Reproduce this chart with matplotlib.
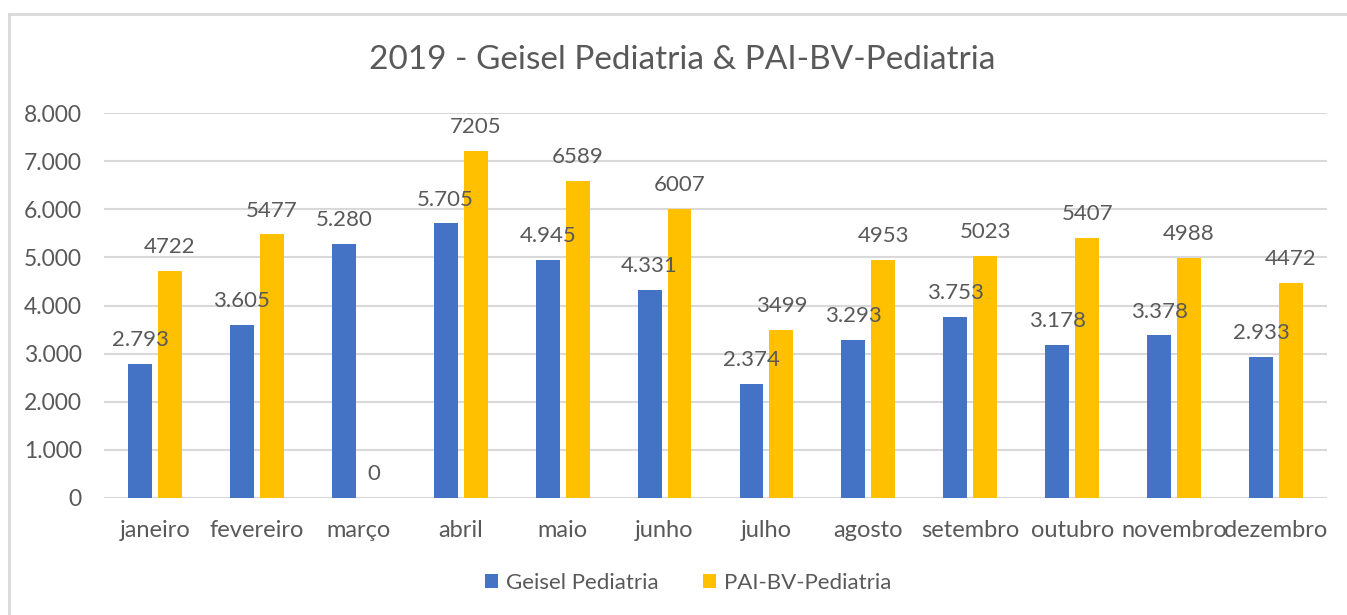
import matplotlib
matplotlib.use("Agg")
import matplotlib.pyplot as plt
from matplotlib.lines import Line2D
import numpy as np

plt.rcParams['font.family'] = ['Lato', 'DejaVu Sans']

months = ["janeiro", "fevereiro", "março", "abril", "maio", "junho", "julho",
          "agosto", "setembro", "outubro", "novembro", "dezembro"]
geisel = [2793, 3605, 5280, 5705, 4945, 4331, 2374, 3293, 3753, 3178, 3378, 2933]
pai = [4722, 5477, 0, 7205, 6589, 6007, 3499, 4953, 5023, 5407, 4988, 4472]
yticks = [0, 1000, 2000, 3000, 4000, 5000, 6000, 7000, 8000]
ytick_labels = ["0", "1.000", "2.000", "3.000", "4.000", "5.000", "6.000", "7.000", "8.000"]

W, H = 1347, 615
fig = plt.figure(figsize=(W / 100, H / 100), dpi=100)
fig.patch.set_facecolor("white")

# border (left/top visible)
fig.add_artist(Line2D([9 / W, 9 / W], [0, 1 - 14 / H], transform=fig.transFigure, color="#D9D9D9", lw=2))
fig.add_artist(Line2D([9 / W, 1.01], [1 - 14 / H, 1 - 14 / H], transform=fig.transFigure, color="#D9D9D9", lw=2))

ax = fig.add_axes([104 / W, (H - 498) / H, 1223 / W, (498 - 113) / H])
x = np.arange(len(months))
bw = 0.235
off = 0.147
gc = "#595959"
b1 = ax.bar(x - off, geisel, bw, color="#4472C4", label="Geisel Pediatria", zorder=3)
b2 = ax.bar(x + off, pai, bw, color="#FFC000", label="PAI-BV-Pediatria", zorder=3)

for xi, v in zip(x, geisel):
    ax.annotate(f"{v:,}".replace(",", "."), (xi - off, v), xytext=(0, 10), textcoords="offset points",
                ha="center", va="bottom", fontsize=16, color=gc, zorder=4)
for xi, v in zip(x, pai):
    ax.annotate(f"{v}", (xi + off, v), xytext=(0, 10), textcoords="offset points",
                ha="center", va="bottom", fontsize=16, color=gc, zorder=4)

ax.set_xlim(-0.5, len(months) - 0.5)
ax.set_ylim(0, 8000)
ax.set_yticks(yticks)
ax.set_yticklabels(ytick_labels, fontsize=16.5, color=gc)
ax.set_xticks(x)
ax.set_xticklabels(months, fontsize=17, color=gc)
ax.tick_params(axis="both", length=0)
ax.tick_params(axis="y", pad=16)
ax.tick_params(axis="x", pad=16)
ax.grid(axis="y", color="#D9D9D9", lw=1.5, zorder=0)
for s in ax.spines.values():
    s.set_visible(False)
ax.axhline(0, color="#D9D9D9", lw=1.5, zorder=2)

fig.text(682 / W, 1 - 60 / H, "2019 - Geisel Pediatria & PAI-BV-Pediatria", ha="center", va="center",
         fontsize=24, color=gc)

leg = fig.legend(handles=[b1, b2], loc="center", bbox_to_anchor=(688 / W, 1 - 583 / H), ncol=2,
                 frameon=False, fontsize=16, handlelength=0.6, handleheight=0.6, columnspacing=2.0,
                 handletextpad=0.35)
for t in leg.get_texts():
    t.set_color(gc)

fig.savefig("out.png", dpi=100, facecolor="white")
